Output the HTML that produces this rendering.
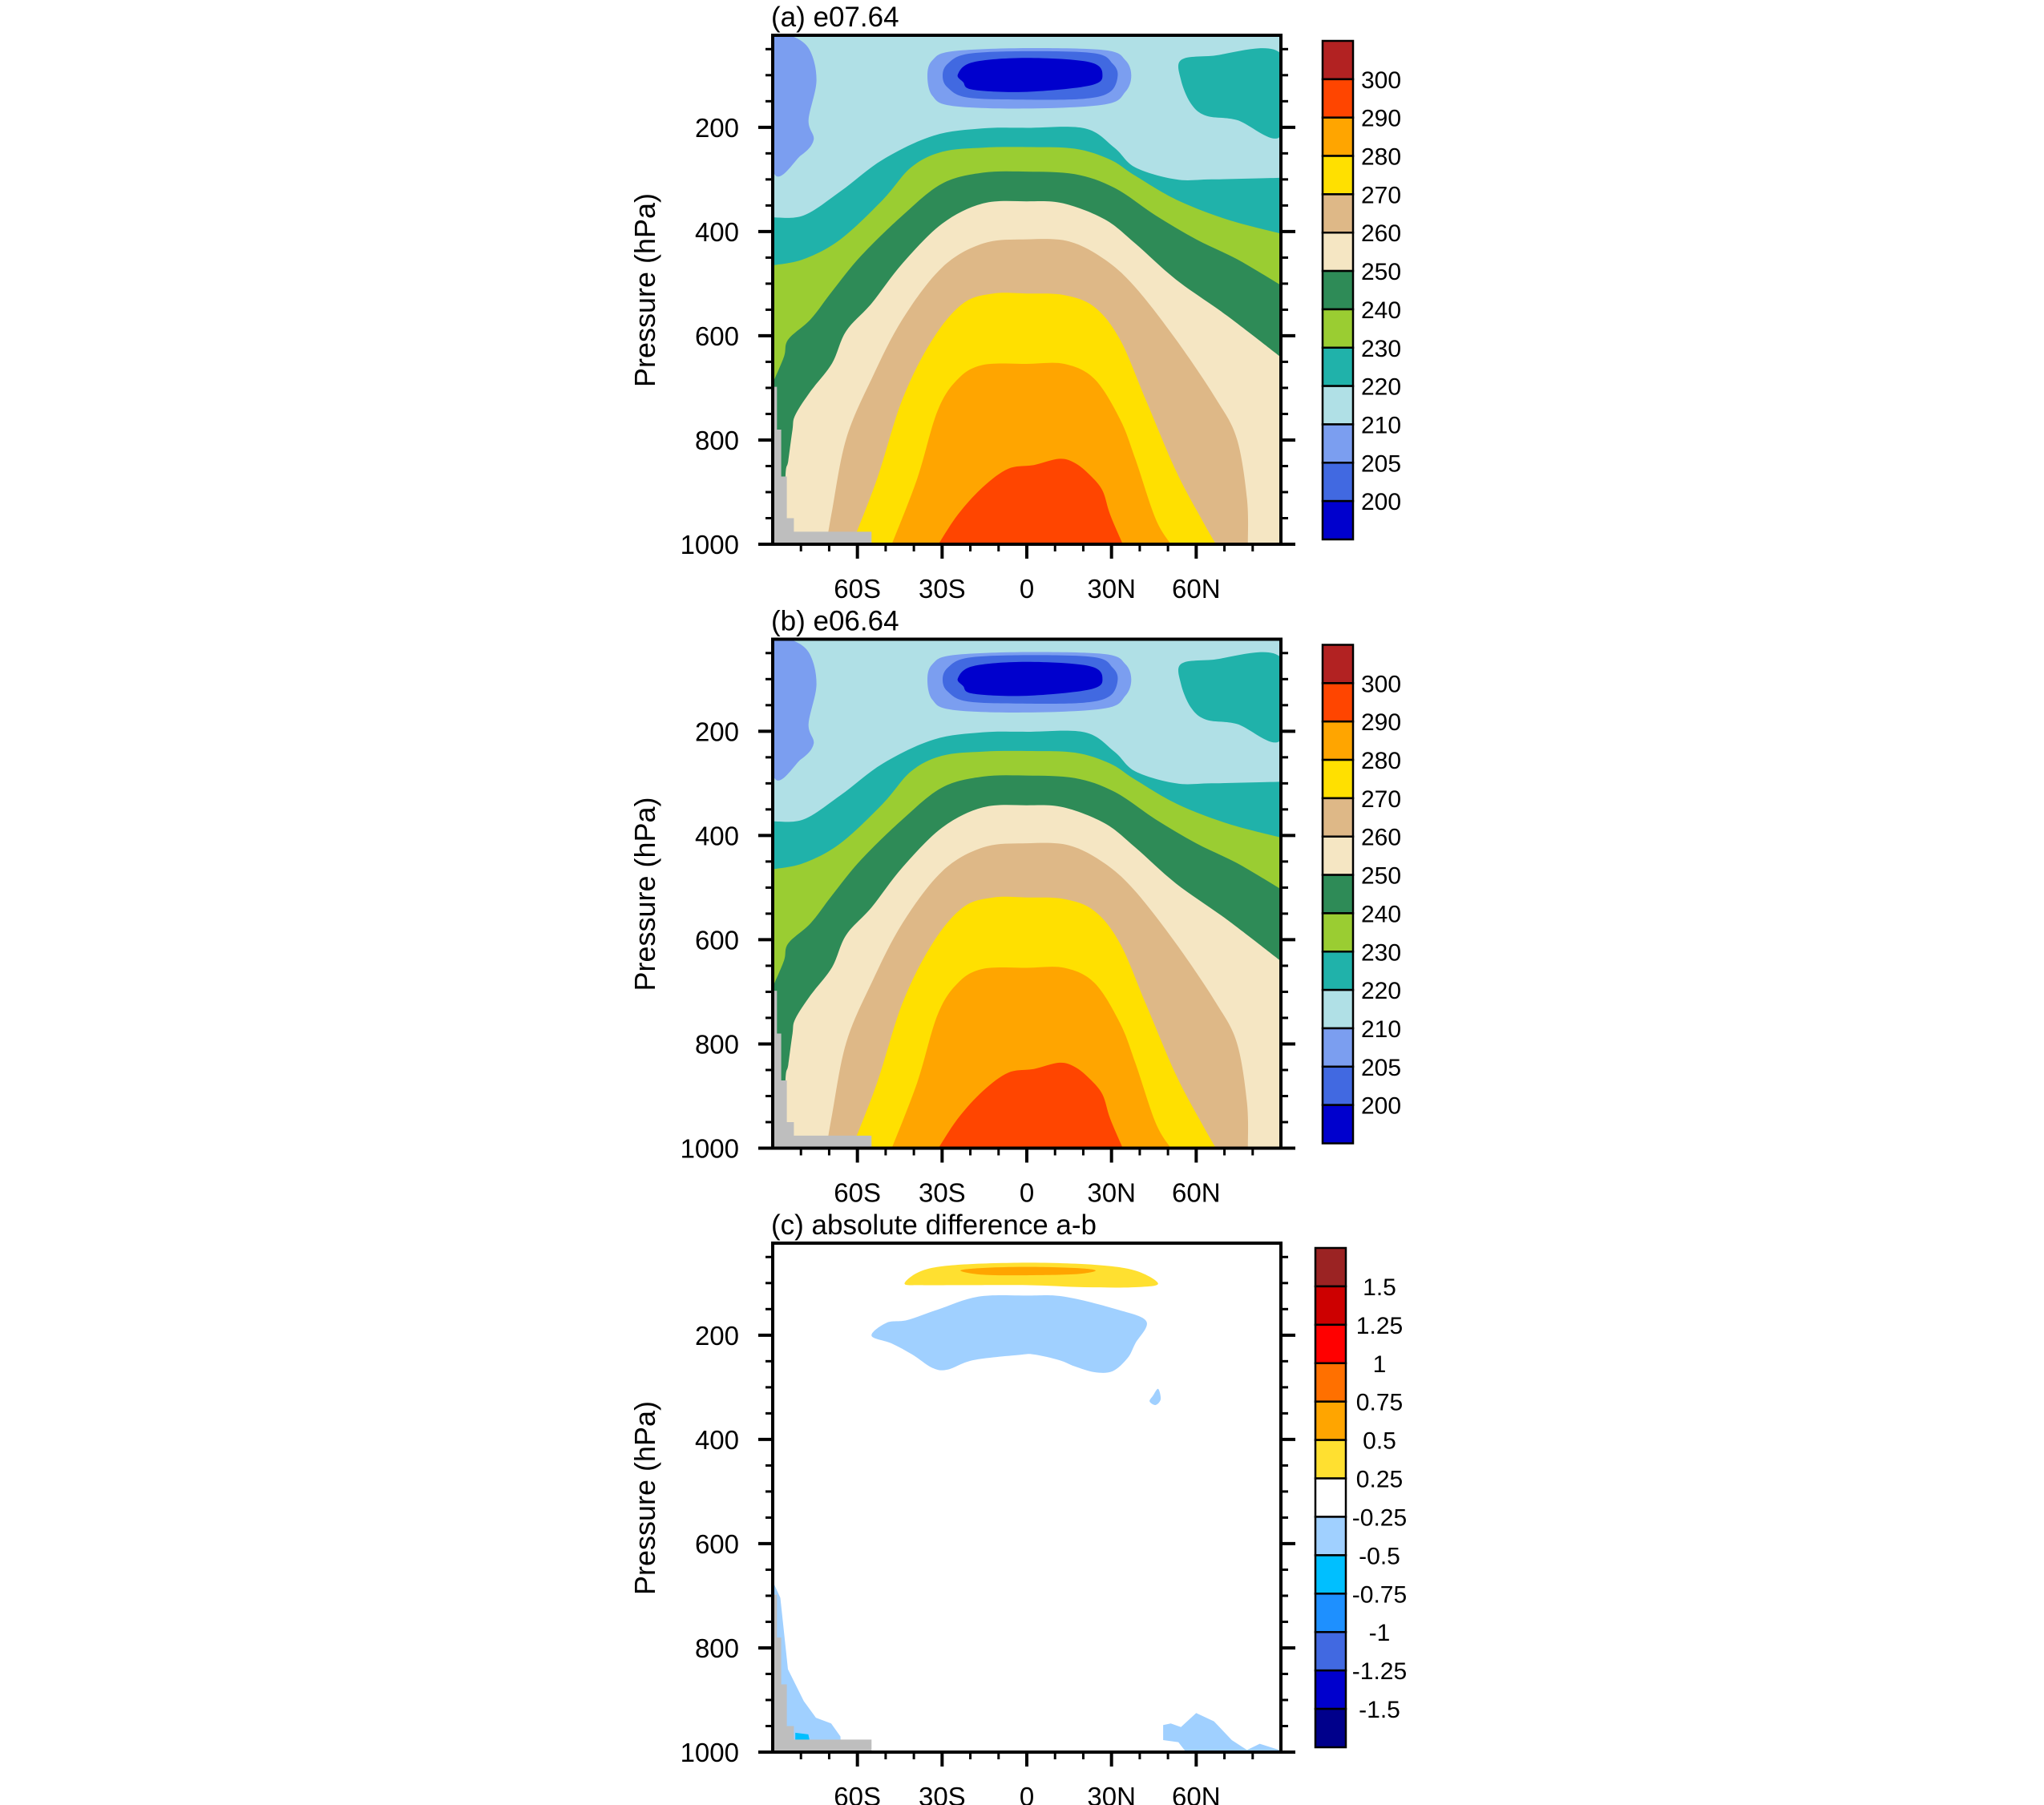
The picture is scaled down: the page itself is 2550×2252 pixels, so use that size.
<!DOCTYPE html>
<html><head><meta charset="utf-8"><style>
html,body{margin:0;padding:0;background:#fff}
svg{display:block}
text{font-family:"Liberation Sans",sans-serif;fill:#000}
</style></head><body>
<svg id="fig" xmlns="http://www.w3.org/2000/svg" width="2550" height="2252" viewBox="0 0 2550 2252"></svg>
<script>
// ---- data (latitude in degrees, pressure in hPa) ----
const xTickVals = [-60,-30,0,30,60];
const xTickLabels = ["60S","30S","0","30N","60N"];
const yTickVals = [200,400,600,800,1000];
const yTickLabels = ["200","400","600","800","1000"];
const titles = ["(a) e07.64","(b) e06.64","(c) absolute difference a-b"];

const tempLabels = ["300","290","280","270","260","250","240","230","220","210","205","200"];
const tempColors = ["#B22222","#FF4500","#FFA500","#FFE000","#DEB887","#F5E6C3","#2E8B57","#9ACD32","#20B2AA","#B0E0E6","#7B9EF0","#4169E1","#0000CD"];
const diffLabels = ["1.5","1.25","1","0.75","0.5","0.25","-0.25","-0.5","-0.75","-1","-1.25","-1.5"];
const diffColors = ["#9B2323","#CD0000","#FF0000","#FF7000","#FFA500","#FFE030","#FFFFFF","#A0D0FF","#00BFFF","#1E90FF","#4169E1","#0000CD","#00008B"];

// warm-side regions (filled below contour line)
const t220 = [[-90,373],[-79,369],[-66,323],[-51,262],[-33,216],[-15.5,202],[0,201],[20.5,202],[31,239],[38.4,277],[52.8,300],[65.4,300],[90,297]];
const t230 = [[-90,465],[-79,453],[-66,415],[-51,339],[-41,277],[-30,247],[-15.5,239],[0,238],[17,241],[29.5,262],[38.4,293],[53,339],[71,377],[90,404]];
const t240 = [[-90,691],[-86,640],[-84.5,607],[-76.5,568],[-69,515],[-58.6,446],[-44,369],[-30,308],[-15.5,287],[0,285],[17,290],[31,316],[45.6,369],[60,415],[74.4,453],[90,503]];
const t250 = [[-86,1000],[-85.5,870],[-84.5,840],[-83,780],[-82,752],[-76.5,706],[-69,653],[-64,591],[-55,538],[-44,461],[-30,385],[-15.5,346],[0,342],[13,346],[27.7,377],[38.4,423],[52.8,492],[70.8,561],[90,641]];
const t260 = [[-71,1000],[-69,936],[-64,798],[-55,683],[-44,568],[-30,469],[-15.5,423],[0,415],[15,419],[27.7,454],[38.4,507],[52.8,607],[67,721],[74.4,798],[78,913],[78.3,1000]];
const t270 = [[-62,1000],[-53,874],[-44,721],[-33.4,607],[-22.6,538],[-11.9,519],[0,519],[13.3,522],[24,545],[33,607],[42,721],[52.8,859],[61.8,951],[67,1000]];
const t280 = [[-47.8,1000],[-38.8,874],[-31.6,744],[-24.4,683],[-15.5,656],[0,654],[13.3,654],[24,683],[33,760],[38.4,836],[45.6,951],[51,1000]];
const t290 = [[-31.3,1000],[-24.4,943],[-15.5,890],[-6.5,855],[2.5,848],[11.5,836],[17,844],[22.3,867],[26.8,897],[29.5,943],[34,1000]];
// closed blobs
const nhTeal = [[54.6,71],[65.4,63],[90,59],[90,216],[74.4,186],[63.6,178],[58.2,155],[54.6,109]];
const shCold = [[-90,20],[-84.5,22],[-77.3,48],[-74.5,109],[-77.3,186],[-75.5,224],[-80,254],[-90,281]];
const core205 = [[-33.4,71],[-26.2,54],[0,48],[27.7,52],[34.9,71],[37,101],[34.9,132],[27.7,156],[0,164],[-26.2,159],[-33.4,140],[-35.2,101]];
const core200 = [[-28,78],[-20.8,59],[0,54],[24,58],[30.4,78],[32.2,101],[29.5,132],[20.5,145],[0,147],[-20.8,143],[-28,124],[-29.8,101]];
const coreLow = [[-24.4,98],[-19,75],[0,67],[22.3,75],[26.8,100],[22.3,120],[0,132],[-19,128],[-22.6,113]];
const missing = [[-90,698],[-88.5,698],[-88.5,780],[-87,780],[-87,870],[-85,870],[-85,950],[-82.5,950],[-82.5,976],[-55,976],[-55,1000],[-90,1000]];
// difference blobs
const dPos1 = [[-43.3,101],[-37,76],[-24.4,65],[0,61],[24,65],[38.4,76],[46.5,101],[38.4,108],[20.5,108],[0,104],[-24.4,104],[-37,104]];
const dPos2 = [[-23.5,76],[-15.5,71],[0,69],[17,71],[24.4,76],[17,83],[0,85],[-15.5,84]];
const dNeg1 = [[-55,201],[-49.6,176],[-42.4,171],[-31.6,151],[-17.2,126],[0,124],[13.3,126],[32.2,151],[42.4,174],[38.4,216],[35.7,244],[30.4,269],[24,271],[17,260],[11.5,248],[2.5,237],[-2.9,238],[-19,248],[-28,266],[-33.4,263],[-40.6,237],[-47.8,216]];
const dNeg2 = [[44.7,316],[46.5,303],[47.4,323],[45.6,334],[43.5,327]];
const dNeg3 = [[-90,672],[-87.3,704],[-84.6,841],[-79,902],[-74.7,934],[-69.3,945],[-66,970],[-65.8,1000],[-90,1000]];
const dNeg4 = [[-82,963],[-77.4,966],[-76.9,978],[-82,978]];
const dNeg5 = [[48.3,948],[51,945],[54.6,952],[60,925],[66.3,941],[72.6,977],[78,996],[82.5,984],[90,997],[90,1000],[56.4,1000],[53.7,981],[48.3,977]];

// ---- layout ----
const NS='http://www.w3.org/2000/svg';
const svg=document.getElementById('fig');
const L=964,R=1598,PT=44,PB=679,P0=23.4;
function X(lat){return 1281+lat*(R-L)/180;}
function mkY(off){return p=>off+PT+(p-P0)*(PB-PT)/(1000-P0);}
function el(tag,attrs,parent){const e=document.createElementNS(NS,tag);for(const k in attrs)e.setAttribute(k,attrs[k]);(parent||svg).appendChild(e);return e;}
function f(n){return n.toFixed(1);}
// Catmull-Rom smoothing
function smoothSeg(P,closed){
  const n=P.length;let d='';
  const get=i=>closed?P[(i+n)%n]:P[Math.max(0,Math.min(n-1,i))];
  const last=closed?n:n-1;
  for(let i=0;i<last;i++){
    const p0=get(i-1),p1=get(i),p2=get(i+1),p3=get(i+2);
    const c1=[p1[0]+(p2[0]-p0[0])/6,p1[1]+(p2[1]-p0[1])/6];
    const c2=[p2[0]-(p3[0]-p1[0])/6,p2[1]-(p3[1]-p1[1])/6];
    d+=' C'+f(c1[0])+','+f(c1[1])+' '+f(c2[0])+','+f(c2[1])+' '+f(p2[0])+','+f(p2[1]);
  }
  return d;
}
function region(arr,Y,color,g,name){
  const P=arr.map(d=>[X(d[0]),Y(d[1])]);
  const s=arr[0],e=arr[arr.length-1];
  let d='M'+f(P[0][0])+','+f(P[0][1])+smoothSeg(P,false);
  if(e[1]<1000)d+=' L'+f(X(e[0]))+','+f(Y(1000));
  if(s[1]<1000)d+=' L'+f(X(s[0]))+','+f(Y(1000));
  d+=' Z';
  const p=el('path',{d:d,fill:color},g);
  
  
}
function blob(arr,Y,color,g,name){
  const P=arr.map(d=>[X(d[0]),Y(d[1])]);
  const d='M'+f(P[0][0])+','+f(P[0][1])+smoothSeg(P,true)+' Z';
  const p=el('path',{d:d,fill:color},g);
  
  
}
function poly(arr,Y,color,g,name){
  const p=el('polygon',{points:arr.map(d=>f(X(d[0]))+','+f(Y(d[1]))).join(' '),fill:color},g);
  
  
}

function panel(i,off,isDiff){
  const Y=mkY(off);
  const g=el('g',{});
  
  
  const cp=el('clipPath',{id:'clip'+i},g);
  el('rect',{x:L,y:off+PT,width:R-L,height:PB-PT},cp);
  const fg=el('g',{'clip-path':'url(#clip'+i+')'},g);
  
  
  if(!isDiff){
    const bg=el('rect',{x:L,y:off+PT,width:R-L,height:PB-PT,fill:tempColors[9]},fg);
    
    
    region(t220,Y,tempColors[8],fg,'band-220-230');
    region(t230,Y,tempColors[7],fg,'band-230-240');
    region(t240,Y,tempColors[6],fg,'band-240-250');
    region(t250,Y,tempColors[5],fg,'band-250-260');
    region(t260,Y,tempColors[4],fg,'band-260-270');
    region(t270,Y,tempColors[3],fg,'band-270-280');
    region(t280,Y,tempColors[2],fg,'band-280-290');
    region(t290,Y,tempColors[1],fg,'band-290-300');
    blob(nhTeal,Y,tempColors[8],fg,'nh-upper-220');
    blob(shCold,Y,tempColors[10],fg,'sh-upper-205');
    blob(core205,Y,tempColors[10],fg,'tropopause-205');
    blob(core200,Y,tempColors[11],fg,'tropopause-200');
    blob(coreLow,Y,tempColors[12],fg,'tropopause-below-200');
  } else {
    blob(dPos1,Y,diffColors[5],fg,'diff-pos-025');
    blob(dPos2,Y,diffColors[4],fg,'diff-pos-05');
    blob(dNeg1,Y,diffColors[7],fg,'diff-neg-upper');
    blob(dNeg2,Y,diffColors[7],fg,'diff-neg-small');
    poly(dNeg3,Y,diffColors[7],fg,'diff-neg-antarctic');
    poly(dNeg4,Y,diffColors[8],fg,'diff-neg-antarctic-core');
    poly(dNeg5,Y,diffColors[7],fg,'diff-neg-arctic');
  }
  poly(missing,Y,'#BEBEBE',fg,'missing-data');
  // ticks
  const tk=el('g',{stroke:'#000','stroke-width':3},g);
  
  
  for(let p=50;p<1000;p+=50){
    const major=yTickVals.includes(p);const len=major?18:9;
    el('line',{x1:L-len,x2:L,y1:Y(p),y2:Y(p),'stroke-width':major?4:3},tk);
    el('line',{x1:R,x2:R+len,y1:Y(p),y2:Y(p),'stroke-width':major?4:3},tk);
  }
  for(let lat=-80;lat<=80;lat+=10){
    const major=xTickVals.includes(lat);const len=major?18:9;
    el('line',{x1:X(lat),x2:X(lat),y1:Y(1000),y2:Y(1000)+len,'stroke-width':major?4:3},tk);
  }
  el('line',{x1:L-18,x2:L,y1:Y(1000),y2:Y(1000),'stroke-width':4},tk);
  el('line',{x1:R,x2:R+18,y1:Y(1000),y2:Y(1000),'stroke-width':4},tk);
  const fr=el('rect',{x:L,y:off+PT,width:R-L,height:PB-PT,fill:'none',stroke:'#000','stroke-width':4},g);
  
  
  yTickVals.forEach((v,k)=>{
    const t=el('text',{x:922,y:Y(v)+12,'font-size':33,'text-anchor':'end'},g);
    t.textContent=yTickLabels[k];
    
    
  });
  xTickVals.forEach((v,k)=>{
    const t=el('text',{x:X(v),y:off+746,'font-size':33,'text-anchor':'middle'},g);
    t.textContent=xTickLabels[k];
    
    
  });
  const yl=el('text',{x:0,y:0,'font-size':36,'text-anchor':'middle',transform:'translate(817,'+(off+362)+') rotate(-90)'},g);
  yl.textContent='Pressure (hPa)';
  
  
  const tt=el('text',{x:L-2,y:off+33,'font-size':35},g);
  tt.textContent=titles[i];
  
  
  // colorbar
  const cols=isDiff?diffColors:tempColors, labs=isDiff?diffLabels:tempLabels;
  const cx=isDiff?1641:1650, cw=38, cy0=off+(isDiff?50:51), cy1=off+673;
  const bh=(cy1-cy0)/cols.length;
  const cb=el('g',{},g);
  
  
  cols.forEach((c,k)=>{
    const r=el('rect',{x:cx,y:cy0+k*bh,width:cw,height:bh,fill:c,stroke:'#000','stroke-width':2.5},cb);
    
    
  });
  labs.forEach((s,k)=>{
    const t=el('text',{x:isDiff?1721:1698,y:cy0+(k+1)*bh+11,'font-size':30,'text-anchor':isDiff?'middle':'start'},cb);
    t.textContent=s;
    
    
  });
}
panel(0,0,false);
panel(1,753.5,false);
panel(2,1507,true);
</script>
</body></html>
